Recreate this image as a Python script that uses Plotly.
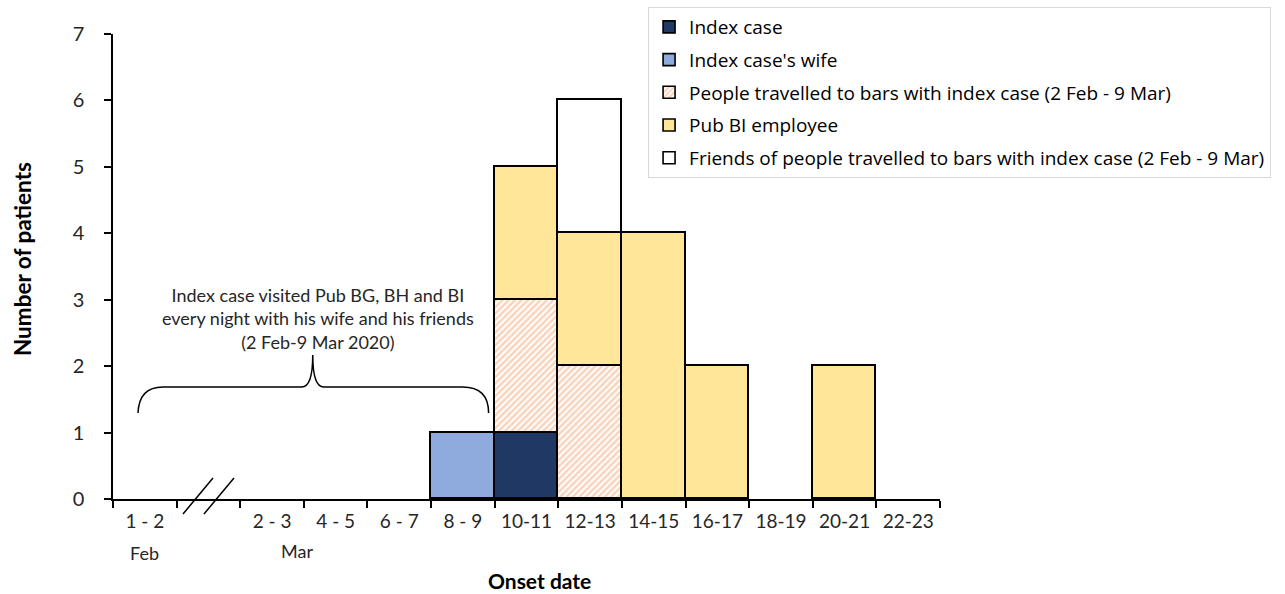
import plotly.graph_objects as go

categories = ["1 - 2", " ", "2 - 3", "4 - 5", "6 - 7", "8 - 9", "10-11", "12-13",
              "14-15", "16-17", "18-19", "20-21", "22-23"]
index_case = [0, 0, 0, 0, 0, 0, 1, 0, 0, 0, 0, 0, 0]
index_wife = [0, 0, 0, 0, 0, 1, 0, 0, 0, 0, 0, 0, 0]
travelled = [0, 0, 0, 0, 0, 0, 2, 2, 0, 0, 0, 0, 0]
pub_bi = [0, 0, 0, 0, 0, 0, 2, 2, 4, 2, 0, 2, 0]
friends = [0, 0, 0, 0, 0, 0, 0, 2, 0, 0, 0, 0, 0]


def nz(vals):
    # keep only non-zero entries: zero-height bars would draw outlines on the axis
    pairs = [(c, v) for c, v in zip(categories, vals) if v]
    return [p[0] for p in pairs], [p[1] for p in pairs]


FONT = "Lato"
line = dict(color="black", width=1.6)

fig = go.Figure()


def add(vals, name, group, marker):
    xs, ys = nz(vals)
    fig.add_bar(x=xs, y=ys, name=name, legendgroup=group, marker=marker)


add(index_case, "Index case", "a", dict(color="#1F3864", line=line))
add(index_wife, "Index case's wife", "b", dict(color="#8FAADC", line=line))
add(travelled, "People travelled to bars with index case (2 Feb - 9 Mar)", "c",
    dict(color="white", line=line,
         pattern=dict(shape="/", fgcolor="#F4A878", bgcolor="white",
                      size=4.5, solidity=0.55, fillmode="overlay")))
add(pub_bi, "Pub BI employee", "d", dict(color="#FFE699", line=line))
add(friends, "Friends of people travelled to bars with index case (2 Feb - 9 Mar)", "e",
    dict(color="white", line=line))

fig.update_layout(
    width=1285, height=594,
    barmode="stack", bargap=0,
    plot_bgcolor="white", paper_bgcolor="white",
    margin=dict(l=113, r=345, t=34, b=95, autoexpand=False),
    font=dict(family=FONT, size=18, color="#262626"),
    showlegend=True,
    legend=dict(x=0.647, y=1.058, xanchor="left", yanchor="top",
                bgcolor="white", bordercolor="#d9d9d9", borderwidth=1,
                font=dict(family="Open Sans", size=19, color="black"), tracegroupgap=5,
                traceorder="grouped", itemwidth=30),
    xaxis=dict(type="category", categoryorder="array", categoryarray=categories,
               showline=True, linecolor="black", linewidth=1.5,
               ticks="outside", tickson="boundaries", ticklen=7, tickwidth=1.5,
               tickcolor="black", showgrid=False, zeroline=False,
               range=[-0.5, 12.5], ticklabelstandoff=4,
               tickfont=dict(size=19, color="#262626")),
    yaxis=dict(range=[0, 7], dtick=1, showline=True, linecolor="black", linewidth=1.5,
               ticks="outside", ticklen=7, tickwidth=1.5, tickcolor="black",
               showgrid=False, zeroline=False, ticklabelstandoff=16,
               tickfont=dict(size=20, color="#262626")),
)

# axis titles
fig.add_annotation(text="<b>Onset date</b>", xref="paper", yref="paper",
                   x=(539 - 113) / 827, y=(499 - 580) / 465, showarrow=False,
                   xanchor="center", yanchor="middle",
                   font=dict(size=21, color="black"))
fig.add_annotation(text="<b>Number of patients</b>", xref="paper", yref="paper",
                   x=(22 - 113) / 827, y=(499 - 259) / 465, showarrow=False, textangle=-90,
                   xanchor="center", yanchor="middle",
                   font=dict(size=22.5, color="black"))

# month labels
fig.add_annotation(text="Feb", xref="paper", yref="paper",
                   x=(144 - 113) / 827, y=(499 - 553) / 465, showarrow=False,
                   xanchor="center", yanchor="middle",
                   font=dict(size=18, color="#262626"))
fig.add_annotation(text="Mar", xref="paper", yref="paper",
                   x=(297 - 113) / 827, y=(499 - 551) / 465, showarrow=False,
                   xanchor="center", yanchor="middle",
                   font=dict(size=18, color="#262626"))

# axis break slashes
for x0, x1 in [(183, 213), (204, 234)]:
    fig.add_shape(type="line", xref="paper", yref="paper",
                  x0=(x0 - 113) / 827, y0=(499 - 514) / 465,
                  x1=(x1 - 113) / 827, y1=(499 - 478) / 465,
                  line=dict(color="black", width=1.5))

# brace
brace = ("M -0.107,1.295 Q -0.09,1.686 0.285,1.686 L 2.467,1.686 "
         "Q 2.64,1.686 2.64,2.168 Q 2.64,1.686 2.813,1.686 L 4.995,1.686 "
         "Q 5.404,1.686 5.404,1.295")
fig.add_shape(type="path", xref="x", yref="y", path=brace,
              line=dict(color="black", width=1.5))

fig.add_annotation(text="Index case visited Pub BG, BH and BI<br>every night with his wife and his friends<br>(2 Feb-9 Mar 2020)",
                   x=2.72, y=(499 - 318) / 66.43, xref="x", yref="y", showarrow=False,
                   font=dict(size=18, color="#262626"), align="center")

fig.write_html("out.html")
